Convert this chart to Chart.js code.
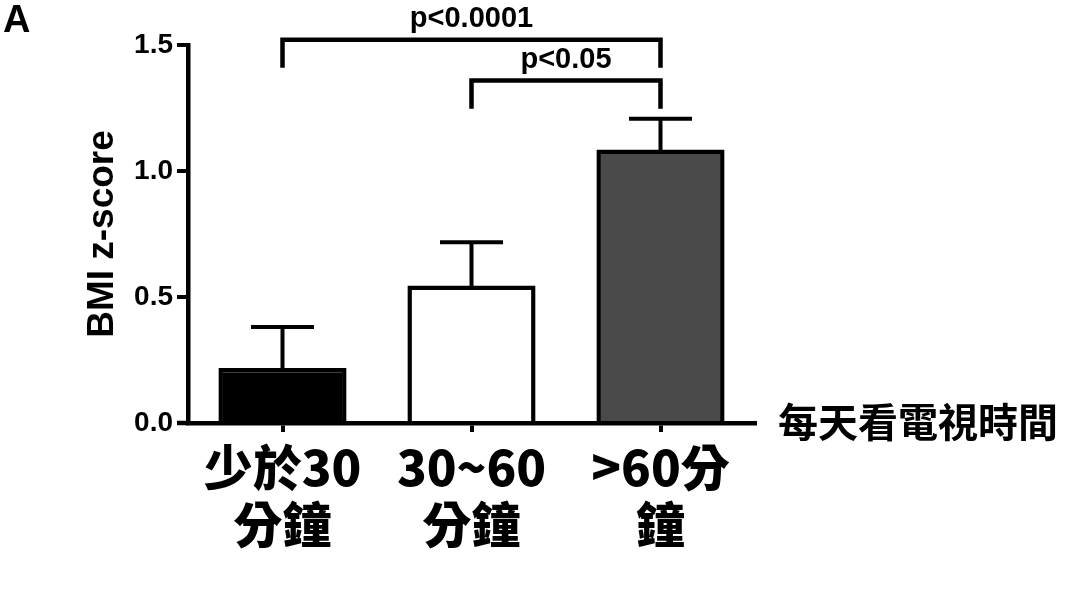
<!DOCTYPE html>
<html>
<head>
<meta charset="utf-8">
<script src="https://cdn.jsdelivr.net/npm/chart.js@4"></script>
<style>
  body { margin: 0; background: #fff; }
  #wrap { width: 1080px; height: 607px; position: relative; }
</style>
</head>
<body>
<div id="wrap"><canvas id="myChart"></canvas></div>
<script>
// categories (two lines each) and bar values
const categories = [['少於30', '分鐘'], ['30~60', '分鐘'], ['>60分', '鐘']];
const meanValues = [0.218, 0.546, 1.085];
const semValues = [0.163, 0.171, 0.122];
const barColors = ['#000000', '#ffffff', '#4a4a4a'];
const yTicks = [0.0, 0.5, 1.0, 1.5];

// significance brackets: [from, to], top level, leg bottom, label
const compPairs = [[0, 2], [1, 2]];
const compTops = [1.521, 1.359];
const compLegs = [1.41, 1.247];
const compLabels = ['p<0.0001', 'p<0.05'];

const panelLetter = 'A';
const yTitle = 'BMI z-score';
const xTitle = '每天看電視時間';

const latin = '"Liberation Sans", Arial, sans-serif';
const cjk = '"Noto Sans CJK TC", "Noto Sans CJK SC", sans-serif';

const extras = {
  id: 'extras',
  afterDatasetsDraw(chart) {
    const ctx = chart.ctx;
    const y = chart.scales.y;
    const meta = chart.getDatasetMeta(0);
    ctx.save();
    ctx.strokeStyle = '#000';
    ctx.lineWidth = 4;
    // error bars (upper only)
    for (let i = 0; i < meanValues.length; i++) {
      const cx = meta.data[i].x;
      const top = y.getPixelForValue(meanValues[i] + semValues[i]);
      const base = y.getPixelForValue(meanValues[i]);
      ctx.beginPath();
      ctx.moveTo(cx, base + 2);
      ctx.lineTo(cx, top);
      ctx.moveTo(cx - 31.5, top);
      ctx.lineTo(cx + 31.5, top);
      ctx.stroke();
    }
    // x axis line runs a bit past the y axis
    const area = chart.chartArea;
    ctx.lineWidth = 4.5;
    ctx.beginPath();
    ctx.moveTo(area.left - 11, area.bottom);
    ctx.lineTo(area.left, area.bottom);
    ctx.stroke();
    ctx.restore();
  },
  afterDraw(chart) {
    const ctx = chart.ctx;
    const x = chart.scales.x;
    const y = chart.scales.y;
    ctx.save();
    ctx.strokeStyle = '#000';
    ctx.fillStyle = '#000';
    ctx.lineWidth = 4.5;
    // brackets
    for (let i = 0; i < compPairs.length; i++) {
      const x1 = x.getPixelForValue(compPairs[i][0]);
      const x2 = x.getPixelForValue(compPairs[i][1]);
      const yt = y.getPixelForValue(compTops[i]);
      const yl = y.getPixelForValue(compLegs[i]);
      ctx.beginPath();
      ctx.moveTo(x1, yl);
      ctx.lineTo(x1, yt);
      ctx.lineTo(x2, yt);
      ctx.lineTo(x2, yl);
      ctx.stroke();
      ctx.font = 'bold 29px ' + latin;
      ctx.textAlign = 'center';
      ctx.textBaseline = 'alphabetic';
      ctx.fillText(compLabels[i], (x1 + x2) / 2, yt - 13);
    }
    // panel letter
    ctx.font = 'bold 38px ' + latin;
    ctx.textAlign = 'left';
    ctx.fillText(panelLetter, 3, 32);
    // x axis title at the right end
    ctx.font = 'bold 40px ' + cjk;
    ctx.textBaseline = 'middle';
    ctx.fillText(xTitle, 778, y.getPixelForValue(0) - 1);
    ctx.restore();
  }
};

new Chart(document.getElementById('myChart'), {
  type: 'bar',
  data: {
    labels: categories,
    datasets: [{
      data: meanValues,
      backgroundColor: barColors,
      borderColor: '#000',
      borderWidth: 4.5,
      barPercentage: 0.678,
      categoryPercentage: 1
    }]
  },
  options: {
    responsive: true,
    maintainAspectRatio: false,
    animation: false,
    layout: { padding: { top: 45, right: 325, left: 0, bottom: 0 } },
    plugins: {
      legend: { display: false },
      tooltip: { enabled: false }
    },
    scales: {
      x: {
        afterFit: (scale) => { scale.height = 184; },
        grid: {
          offset: false,
          drawOnChartArea: false,
          tickLength: 9,
          lineWidth: 4,
          color: '#000'
        },
        border: { display: true, color: '#000', width: 4.5 },
        ticks: {
          color: '#000',
          padding: 7,
          maxRotation: 0,
          autoSkip: false,
          font: { family: cjk, size: 49, weight: '900', lineHeight: 1.16 }
        }
      },
      y: {
        min: 0,
        max: 1.5,
        afterFit: (scale) => { scale.width = 188; },
        afterBuildTicks: (scale) => { scale.ticks = yTicks.map(v => ({ value: v })); },
        grid: {
          drawOnChartArea: false,
          tickLength: 11,
          lineWidth: 4,
          color: '#000'
        },
        border: { display: true, color: '#000', width: 4.5 },
        ticks: {
          color: '#000',
          padding: 4,
          font: { family: latin, size: 28, weight: 'bold' },
          callback: (v) => Number(v).toFixed(1)
        },
        title: {
          display: true,
          text: yTitle,
          color: '#000',
          padding: { top: 81, bottom: 0 },
          font: { family: latin, size: 37, weight: 'bold' }
        }
      }
    }
  },
  plugins: [extras]
});
</script>
</body>
</html>
